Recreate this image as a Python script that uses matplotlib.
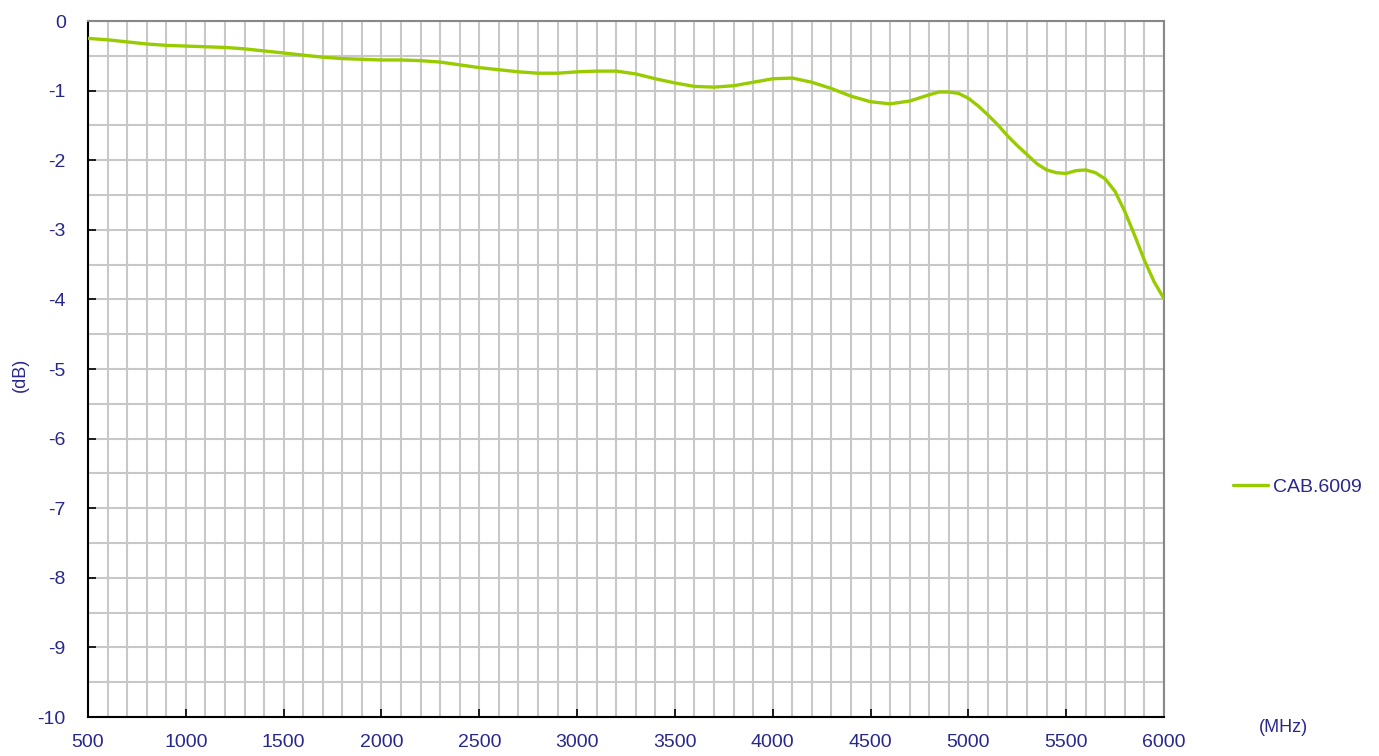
import matplotlib
matplotlib.use('Agg')
import matplotlib.pyplot as plt
from matplotlib.ticker import MultipleLocator

# frequency (MHz) and insertion loss (dB)
freq = [500, 600, 700, 800, 900, 1000, 1100, 1200, 1300, 1400,
        1500, 1600, 1700, 1800, 1900, 2000, 2100, 2200, 2300, 2400,
        2500, 2600, 2700, 2800, 2900, 3000, 3100, 3200, 3300, 3400,
        3500, 3600, 3700, 3800, 3900, 4000, 4100, 4200, 4300, 4400,
        4500, 4600, 4700, 4800, 4850, 4900, 4950, 5000, 5050, 5100,
        5150, 5200, 5250, 5300, 5350, 5400, 5450, 5500, 5550, 5600,
        5650, 5700, 5750, 5800, 5850, 5900, 5950, 6000]
loss = [-0.25, -0.27, -0.30, -0.33, -0.35, -0.36, -0.37, -0.38, -0.40, -0.43,
        -0.46, -0.49, -0.52, -0.54, -0.55, -0.56, -0.56, -0.57, -0.59, -0.63,
        -0.67, -0.70, -0.73, -0.75, -0.75, -0.73, -0.72, -0.72, -0.76, -0.83,
        -0.89, -0.94, -0.95, -0.93, -0.88, -0.83, -0.82, -0.88, -0.97, -1.08,
        -1.16, -1.19, -1.15, -1.06, -1.02, -1.02, -1.04, -1.11, -1.22, -1.35,
        -1.49, -1.65, -1.79, -1.92, -2.05, -2.14, -2.18, -2.19, -2.15, -2.14,
        -2.18, -2.27, -2.45, -2.74, -3.08, -3.44, -3.75, -3.99]
series_name = 'CAB.6009'

txt_color = '#28288c'
plt.rcParams['font.family'] = ['Liberation Sans', 'DejaVu Sans']
plt.rcParams['axes.unicode_minus'] = False

fig = plt.figure(figsize=(13.79, 7.56), dpi=100)
ax = fig.add_axes([88/1379, 1 - 717/756, (1164-88)/1379, (717-21)/756])

ax.plot(freq, loss, color='#99cc00', linewidth=2.4, label=series_name,
        solid_capstyle='round', solid_joinstyle='round', zorder=3)

ax.set_xlim(500, 6000)
ax.set_ylim(-10, 0)
ax.xaxis.set_major_locator(MultipleLocator(500))
ax.xaxis.set_minor_locator(MultipleLocator(100))
ax.yaxis.set_major_locator(MultipleLocator(1))
ax.yaxis.set_minor_locator(MultipleLocator(0.5))

ax.grid(which='both', color='#c8c8c8', linewidth=1.5, zorder=0)
ax.set_axisbelow(True)

ax.tick_params(which='major', direction='in', length=6, width=1.2,
               labelsize=14, labelcolor=txt_color, color='black')
ax.tick_params(axis='x', which='major', pad=12)
ax.tick_params(axis='y', which='major', pad=16)
ax.tick_params(which='minor', length=0)
ax.tick_params(axis='x', top=False)
ax.tick_params(axis='y', right=False)

for s in ['left', 'bottom']:
    ax.spines[s].set_color('black')
    ax.spines[s].set_linewidth(1.5)
for s in ['top', 'right']:
    ax.spines[s].set_color('#888888')
    ax.spines[s].set_linewidth(1.5)

fig.text(20/1379, 1 - 375/756, '(dB)', rotation=90, ha='center', va='center',
         fontsize=13, color=txt_color)
fig.text(1283/1379, 1 - 727/756, '(MHz)', ha='center', va='center',
         fontsize=13, color=txt_color)

fig.legend(loc='center left', bbox_to_anchor=(1233/1379, 1 - 487/756),
           frameon=False, fontsize=14, handlelength=1.8, handletextpad=0.25,
           borderpad=0, borderaxespad=0, labelcolor=txt_color)

fig.savefig('out.png', dpi=100)
